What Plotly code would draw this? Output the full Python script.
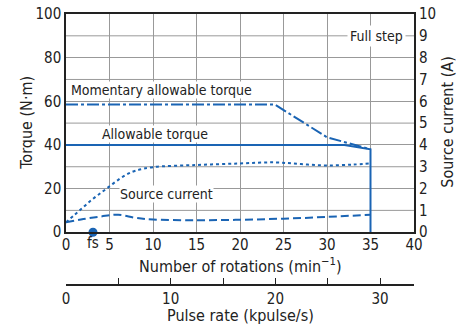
import plotly.graph_objects as go

# ---- data ----
mom_x = [0, 24, 30, 35]
mom_y = [58.5, 58.5, 43.5, 38]
allow_x = [0, 32, 35, 35]
allow_y = [40, 40, 38, 0]
src_x = [0, 1, 2, 3, 4, 5, 6, 7, 8, 10, 15, 20, 24, 27, 30, 33, 35]
src_y = [0.45, 0.8, 1.15, 1.5, 1.8, 2.1, 2.4, 2.65, 2.82, 2.98, 3.08, 3.15, 3.2, 3.12, 3.06, 3.1, 3.15]
low_x = [0, 2, 4, 6, 8, 10, 15, 20, 25, 30, 35]
low_y = [0.45, 0.6, 0.72, 0.8, 0.66, 0.58, 0.55, 0.57, 0.62, 0.7, 0.8]
fs_x = [3.1]
fs_y = [0]
rot_ticks = [0, 5, 10, 15, 20, 25, 30, 35, 40]
pulse_ticks = [0, 5, 10, 15, 20, 25, 30]
pulse_text = ["0", "", "10", "", "20", "", "30"]

BLUE = "#1a64b4"
FONT = "Liberation Sans Narrow, DejaVu Sans Condensed, Arial Narrow, sans-serif"

W, H = 470, 329
SX0, SX1, SY0, SY1 = 66, 414, 14.3, 285.3
L, T = SX0, SY0
R = W - SX1
B = H - SY1
pw, ph = W - L - R, H - T - B
bottom_main = 232.5
ydom0 = (SY1 - bottom_main) / ph

def px(xp):
    return (xp - SX0) / pw

def py(yp):
    return (SY1 - yp) / ph

fig = go.Figure()
fig.add_trace(go.Scatter(x=mom_x, y=mom_y, mode="lines",
                         line=dict(color=BLUE, width=2, dash="12px,3px,3px,3px"),
                         xaxis="x", yaxis="y", showlegend=False))
fig.add_trace(go.Scatter(x=allow_x, y=allow_y, mode="lines",
                         line=dict(color=BLUE, width=2),
                         xaxis="x", yaxis="y", showlegend=False))
fig.add_trace(go.Scatter(x=src_x, y=src_y, mode="lines", line_shape="spline",
                         line=dict(color=BLUE, width=2, dash="dot"),
                         xaxis="x", yaxis="y2", showlegend=False))
fig.add_trace(go.Scatter(x=low_x, y=low_y, mode="lines", line_shape="spline",
                         line=dict(color=BLUE, width=2, dash="8px,4px"),
                         xaxis="x", yaxis="y2", showlegend=False))
fig.add_trace(go.Scatter(x=fs_x, y=fs_y, mode="markers", cliponaxis=False,
                         marker=dict(color=BLUE, size=9),
                         xaxis="x", yaxis="y", showlegend=False))
# secondary (pulse rate) axis carrier
fig.add_trace(go.Scatter(x=[0], y=[None], mode="lines", xaxis="x2", yaxis="y",
                         showlegend=False, hoverinfo="skip"))

tickfont = dict(family=FONT, size=15, color="#222")
fig.update_layout(
    width=W, height=H,
    margin=dict(l=L, r=R, t=T, b=B, autoexpand=False),
    paper_bgcolor="white", plot_bgcolor="white",
    font=dict(family=FONT, size=15, color="#222"),
    xaxis=dict(domain=[0, 1], range=[0, 40], tickvals=rot_ticks, showgrid=True,
               gridcolor="#999", gridwidth=1, showline=True, linecolor="#222",
               linewidth=1.5, mirror=True, ticks="", tickfont=tickfont,
               anchor="y", zeroline=False, automargin=False,
               ticklabelstandoff=-2),
    xaxis2=dict(range=[0, 33.24], tickvals=pulse_ticks, ticktext=pulse_text,
                overlaying="x", anchor="free", position=0, side="bottom",
                showline=True, linecolor="#222", linewidth=1.5, ticks="inside",
                ticklen=6, tickcolor="#222", showgrid=False, zeroline=False,
                tickfont=tickfont, automargin=False),
    yaxis=dict(domain=[ydom0, 1], range=[0, 100], tickvals=[0, 20, 40, 60, 80, 100],
               showgrid=True, gridcolor="#999", gridwidth=1, showline=True,
               linecolor="#222", linewidth=1.5, mirror=True, ticks="",
               tickfont=tickfont, zeroline=False, automargin=False,
               ticklabeloverflow="allow"),
    yaxis2=dict(domain=[ydom0, 1], range=[0, 10], dtick=1, overlaying="y",
                side="right", showgrid=False, ticks="", tickfont=tickfont,
                zeroline=False, anchor="x", automargin=False,
                ticklabeloverflow="allow", ticklabelstandoff=4),
)
for v in [10, 30, 50, 70, 90]:
    fig.add_shape(type="line", xref="x", yref="y", x0=0, x1=40, y0=v, y1=v,
                  line=dict(color="#999", width=1), layer="below")

ann = []
def txt(x, y, s, xref="x", yref="y", bg="white", size=14, pad=0, **kw):
    ann.append(dict(x=x, y=y, xref=xref, yref=yref, text=s, showarrow=False,
                    xanchor="center", yanchor="middle",
                    bgcolor=bg, font=dict(family=FONT, size=size, color="#222"),
                    borderpad=pad, **kw))

txt(11, 65, "Momentary allowable torque")
txt(10.2, 45, "Allowable torque")
txt(11.5, 17.5, "Source current")
txt(35.7, 90, "Full step", pad=2)
txt(px(93), py(243), "fs", xref="paper", yref="paper", bg="rgba(0,0,0,0)", size=15)
txt(px(27), py(123), "Torque (N·m)", xref="paper", yref="paper",
    bg="rgba(0,0,0,0)", size=16, textangle=-90)
txt(px(448), py(123), "Source current (A)", xref="paper", yref="paper",
    bg="rgba(0,0,0,0)", size=16, textangle=-90)
txt(px(240), py(266), "Number of rotations (min<sup>−1</sup>)", xref="paper",
    yref="paper", bg="rgba(0,0,0,0)", size=16)
txt(px(240), py(316), "Pulse rate (kpulse/s)", xref="paper", yref="paper",
    bg="rgba(0,0,0,0)", size=16)
fig.update_layout(annotations=ann)

fig.write_html("out.html", config={"displayModeBar": False},
               post_script="document.body.style.margin='0px';")
